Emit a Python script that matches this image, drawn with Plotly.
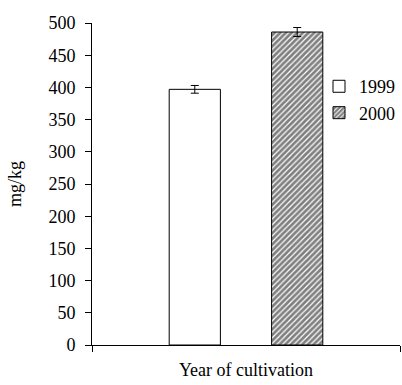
import plotly.graph_objects as go

categories = ["Year of cultivation"]
years = ["1999", "2000"]
values_1999 = [397]
values_2000 = [486]
errors_1999 = [6]
errors_2000 = [7]
y_ticks = [0, 50, 100, 150, 200, 250, 300, 350, 400, 450, 500]

FONT = "Liberation Serif"

fig = go.Figure()
fig.add_trace(go.Bar(
    x=categories, y=values_1999, name=years[0],
    marker=dict(color="white", line=dict(color="black", width=1)),
    error_y=dict(type="data", array=errors_1999, color="black", thickness=1, width=4),
))
fig.add_trace(go.Bar(
    x=categories, y=values_2000, name=years[1],
    marker=dict(color="white", line=dict(color="black", width=1),
                pattern=dict(shape="/", fgcolor="black", bgcolor="white", size=4, solidity=0.7)),
    error_y=dict(type="data", array=errors_2000, color="black", thickness=1, width=4),
))

fig.update_layout(
    width=402, height=385,
    margin=dict(l=92, r=2, t=23, b=40),
    paper_bgcolor="white", plot_bgcolor="white",
    barmode="group", bargap=0.335, bargroupgap=0.5,
    font=dict(family=FONT, size=18, color="black"),
    showlegend=True,
    legend=dict(x=1.0, y=0.86, xanchor="right", yanchor="top",
                font=dict(family=FONT, size=18, color="black"),
                itemwidth=30, tracegroupgap=0, bgcolor="rgba(0,0,0,0)"),
)
fig.update_xaxes(
    showticklabels=False, showline=True, linecolor="black", linewidth=1,
    ticks="outside", tickson="boundaries", ticklen=6, tickcolor="black",
    title=dict(text="Year of cultivation", font=dict(family=FONT, size=18, color="black"), standoff=18),
    showgrid=False, zeroline=False, automargin=False,
)
fig.update_yaxes(
    range=[0, 500], tickvals=y_ticks, showline=True, linecolor="black", linewidth=1,
    ticks="outside", ticklen=6, tickcolor="black", ticklabelstandoff=6,
    tickfont=dict(family=FONT, size=18, color="black"),
    title=dict(text="mg/kg", font=dict(family=FONT, size=18, color="black"), standoff=22),
    showgrid=False, zeroline=False, automargin=False,
)

fig.write_html("out.html")
